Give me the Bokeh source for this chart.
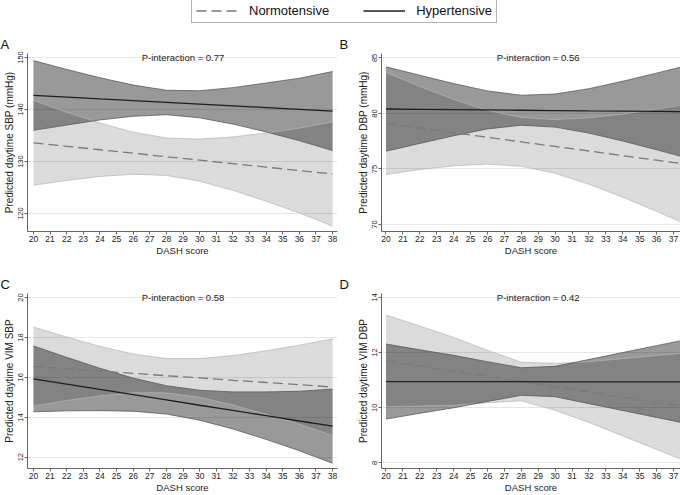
from bokeh.plotting import figure
from bokeh.layouts import column, row
from bokeh.models import Range1d, FixedTicker, Label, Legend, LegendItem
from bokeh.embed import file_html
from bokeh.resources import INLINE

FONT = "Liberation Sans"

x_vals = [20, 22, 24, 26, 28, 30, 32, 34, 36, 38]
x_ticks = list(range(20, 39))

# Panel A: daytime SBP
a_hyp_mean = [142.7, 142.37, 142.03, 141.7, 141.37, 141.03, 140.7, 140.37, 140.03, 139.7]
a_hyp_hi = [149.4, 147.7, 146.1, 144.7, 143.7, 143.6, 144.2, 145.1, 146.0, 147.3]
a_hyp_lo = [136.0, 137.0, 138.0, 138.7, 139.0, 138.4, 137.2, 135.7, 134.0, 132.1]
a_nor_mean = [133.6, 132.93, 132.27, 131.6, 130.93, 130.27, 129.6, 128.93, 128.27, 127.6]
a_nor_hi = [141.75, 139.49, 137.4, 135.64, 134.53, 134.31, 134.73, 135.49, 136.42, 137.6]
a_nor_lo = [125.45, 126.37, 127.14, 127.56, 127.33, 126.23, 124.47, 122.37, 120.12, 117.6]

# Panel B: daytime DBP
b_hyp_mean = [80.40, 80.37, 80.34, 80.32, 80.29, 80.26, 80.23, 80.21, 80.18, 80.15]
b_hyp_hi = [84.20, 83.44, 82.69, 82.03, 81.64, 81.75, 82.23, 82.90, 83.63, 84.39]
b_hyp_lo = [76.60, 77.30, 77.99, 78.61, 78.94, 78.77, 78.23, 77.52, 76.73, 75.91]
b_nor_mean = [79.1, 78.69, 78.27, 77.86, 77.44, 77.03, 76.62, 76.2, 75.79, 75.37]
b_nor_hi = [83.7, 82.43, 81.26, 80.28, 79.64, 79.45, 79.61, 79.94, 80.39, 80.88]
b_nor_lo = [74.5, 74.95, 75.28, 75.44, 75.24, 74.61, 73.63, 72.46, 71.19, 69.86]

# Panel C: daytime VIM SBP
c_hyp_mean = [15.92, 15.66, 15.39, 15.13, 14.87, 14.60, 14.34, 14.08, 13.81, 13.55]
c_hyp_hi = [17.57, 17.0, 16.45, 15.96, 15.58, 15.35, 15.27, 15.27, 15.30, 15.41]
c_hyp_lo = [14.27, 14.32, 14.33, 14.30, 14.16, 13.85, 13.41, 12.89, 12.32, 11.69]
c_nor_mean = [16.54, 16.43, 16.31, 16.2, 16.08, 15.97, 15.85, 15.74, 15.63, 15.51]
c_nor_hi = [18.52, 18.02, 17.55, 17.17, 16.94, 16.94, 17.09, 17.33, 17.61, 17.93]
c_nor_lo = [14.56, 14.84, 15.07, 15.23, 15.22, 15.0, 14.61, 14.15, 13.65, 13.09]

# Panel D: daytime VIM DBP
d_hyp_mean = [10.95, 10.95, 10.95, 10.95, 10.95, 10.94, 10.94, 10.94, 10.94, 10.94]
d_hyp_hi = [12.31, 12.10, 11.90, 11.67, 11.45, 11.50, 11.75, 12.0, 12.25, 12.5]
d_hyp_lo = [9.59, 9.80, 10.0, 10.23, 10.45, 10.40, 10.15, 9.9, 9.65, 9.40]
d_nor_mean = [11.70, 11.51, 11.32, 11.13, 10.95, 10.76, 10.57, 10.38, 10.19, 10.0]
d_nor_hi = [13.36, 12.96, 12.55, 12.08, 11.65, 11.61, 11.67, 11.78, 11.89, 12.0]
d_nor_lo = [10.04, 10.06, 10.09, 10.18, 10.25, 9.91, 9.47, 8.98, 8.49, 8.0]

a_yticks = [120, 130, 140, 150]
b_yticks = [70, 75, 80, 85]
c_yticks = [12, 14, 16, 18, 20]
d_yticks = [8, 10, 12, 14]

series_names = ["Normotensive", "Hypertensive"]
panel_letters = ["A", "B", "C", "D"]
p_texts = ["P-interaction = 0.77", "P-interaction = 0.56",
           "P-interaction = 0.58", "P-interaction = 0.42"]
y_titles = ["Predicted daytime SBP (mmHg)", "Predicted daytime DBP (mmHg)",
            "Predicted daytime VIM SBP", "Predicted daytime VIM DBP"]
x_title = "DASH score"

NOR_LINE = "#7a7a7a"
HYP_LINE = "#1e1e1e"


def make_panel(idx, yticks, yr, nm, nlo, nhi, hm, hlo, hhi, left_col, top_row):
    if left_col:
        w, mbl, mbr = 340, 24, 3
        xr = Range1d(19.642, 38.295)
    else:
        w, mbl, mbr = 340, 41, 0
        xr = Range1d(19.734, 37.416)
    if top_row:
        h, mbt, mbb = 234, 29, 26
    else:
        h, mbt, mbb = 237, 35, 25
    p = figure(width=w, height=h, x_range=xr, y_range=Range1d(*yr),
               toolbar_location=None, output_backend="svg",
               min_border_left=mbl, min_border_right=mbr,
               min_border_top=mbt, min_border_bottom=mbb)
    p.outline_line_color = None
    p.background_fill_color = "white"
    p.border_fill_color = "white"
    p.xgrid.visible = False
    p.ygrid.ticker = FixedTicker(ticks=yticks)
    p.ygrid.grid_line_color = "#e6e6e6"
    p.ygrid.grid_line_width = 1

    # confidence bands
    p.varea(x=x_vals, y1=nlo, y2=nhi, fill_color="black", fill_alpha=0.14)
    p.varea(x=x_vals, y1=hlo, y2=hhi, fill_color="black", fill_alpha=0.40)
    for arr in (nlo, nhi):
        p.line(x_vals, arr, line_color="#b4b4b4", line_width=0.7)
    for arr in (hlo, hhi):
        p.line(x_vals, arr, line_color="#5a5a5a", line_width=0.8)
    # predicted lines
    p.line(x_vals, nm, line_color=NOR_LINE, line_width=1.3, line_dash="10 5")
    p.line(x_vals, hm, line_color=HYP_LINE, line_width=1.3)

    # axes
    p.xaxis.ticker = FixedTicker(ticks=x_ticks)
    p.yaxis.ticker = FixedTicker(ticks=yticks)
    for ax in (p.xaxis[0], p.yaxis[0]):
        ax.axis_line_color = "#666666"
        ax.major_tick_line_color = "#666666"
        ax.minor_tick_line_color = None
        ax.major_tick_out = 3
        ax.major_tick_in = 0
        ax.major_label_text_color = "#222222"
        ax.major_label_text_font = FONT
        ax.axis_label_text_font = FONT
        ax.axis_label_text_font_style = "normal"
        ax.axis_label_text_color = "#222222"
    p.xaxis.major_label_text_font_size = "8.5px"
    p.xaxis.axis_label = x_title
    p.xaxis.axis_label_text_font_size = "9.5px"
    p.xaxis.major_label_standoff = 1
    p.xaxis.axis_label_standoff = 0
    p.yaxis.major_label_text_font_size = "7.5px"
    p.yaxis.major_label_orientation = "vertical"
    p.yaxis.major_label_standoff = 1
    p.yaxis.axis_label = y_titles[idx]
    p.yaxis.axis_label_text_font_size = "10px"
    p.yaxis.axis_label_standoff = 1

    # panel letter
    p.title.text = panel_letters[idx]
    p.title.align = "left"
    p.title.text_font = FONT
    p.title.text_font_size = "13px"
    p.title.text_font_style = "normal"
    p.title.text_color = "#111111"
    p.title.standoff = 4
    p.title.offset = -27 if left_col else -42

    # p-interaction text, centred on the data's x span at the top tick
    lbl = Label(x=(x_vals[0] + x_vals[-1]) / 2, y=yticks[-1], text=p_texts[idx],
                text_align="center", text_baseline="middle",
                text_font=FONT, text_font_size="9.5px", text_color="#222222")
    p.add_layout(lbl)
    return p


pa = make_panel(0, a_yticks, (116.56, 150.76), a_nor_mean, a_nor_lo, a_nor_hi,
                a_hyp_mean, a_hyp_lo, a_hyp_hi, True, True)
pb = make_panel(1, b_yticks, (69.37, 85.4), b_nor_mean, b_nor_lo, b_nor_hi,
                b_hyp_mean, b_hyp_lo, b_hyp_hi, False, True)
pc = make_panel(2, c_yticks, (11.43, 20.2), c_nor_mean, c_nor_lo, c_nor_hi,
                c_hyp_mean, c_hyp_lo, c_hyp_hi, True, False)
pd = make_panel(3, d_yticks, (7.8, 14.14), d_nor_mean, d_nor_lo, d_nor_hi,
                d_hyp_mean, d_hyp_lo, d_hyp_hi, False, False)

# legend strip (placeholder renderers draw nothing, they only supply legend glyphs)
nan = float("nan")
lf = figure(width=680, height=24, x_range=(0, 1), y_range=(0, 1),
            toolbar_location=None, output_backend="svg",
            x_axis_location=None, y_axis_location=None, min_border=0)
lf.grid.visible = False
lf.outline_line_color = None
r1 = lf.line(x=[nan], y=[nan], line_color=NOR_LINE, line_width=1.3, line_dash="10 5")
r2 = lf.line(x=[nan], y=[nan], line_color=HYP_LINE, line_width=1.3)
leg = Legend(items=[LegendItem(label=series_names[0], renderers=[r1]),
                    LegendItem(label=series_names[1], renderers=[r2])],
             orientation="horizontal", location=(191, 1),
             label_text_font=FONT, label_text_font_size="13px",
             label_text_color="#111111",
             glyph_width=42, glyph_height=15, label_standoff=11, spacing=34,
             padding=4, margin=0,
             border_line_color="#666666", border_line_width=1,
             background_fill_color="white", background_fill_alpha=1)
lf.add_layout(leg)

layout = column(lf, row(pa, pb), row(pc, pd))

open("out.html", "w").write(file_html(layout, INLINE))
